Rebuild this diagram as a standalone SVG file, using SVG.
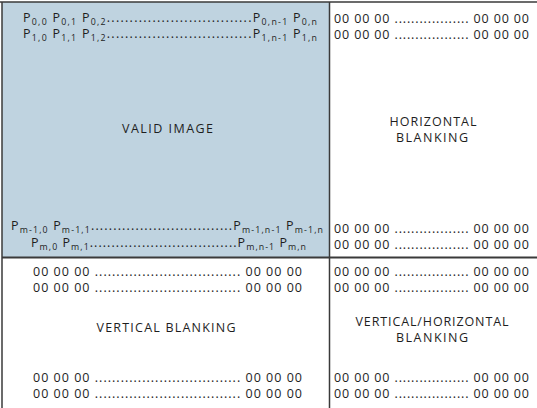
<svg xmlns="http://www.w3.org/2000/svg" width="537" height="408" viewBox="0 0 537 408">
<style>
text{font-family:"Open Sans","Noto Sans",sans-serif;font-size:12.5px;fill:#1e1e1e}
.s{font-size:8.8px}
.c{text-anchor:middle}
.ln{stroke:#3a3a3a;fill:none}
</style>
<rect x="0" y="0" width="537" height="408" fill="#fff"/>
<g id="valid-image">
<rect x="2" y="2" width="327.5" height="255" fill="#bfd3e0"/>
<text x="23" y="22" textLength="294" lengthAdjust="spacing">P<tspan class="s" dy="2.5">0,0</tspan><tspan dy="-2.5"> P</tspan><tspan class="s" dy="2.5">0,1</tspan><tspan dy="-2.5"> P</tspan><tspan class="s" dy="2.5">0,2</tspan><tspan dy="-2.5">................................P</tspan><tspan class="s" dy="2.5">0,n-1</tspan><tspan dy="-2.5"> P</tspan><tspan class="s" dy="2.5">0,n</tspan></text>
<text x="23" y="38" textLength="294" lengthAdjust="spacing">P<tspan class="s" dy="2.5">1,0</tspan><tspan dy="-2.5"> P</tspan><tspan class="s" dy="2.5">1,1</tspan><tspan dy="-2.5"> P</tspan><tspan class="s" dy="2.5">1,2</tspan><tspan dy="-2.5">................................P</tspan><tspan class="s" dy="2.5">1,n-1</tspan><tspan dy="-2.5"> P</tspan><tspan class="s" dy="2.5">1,n</tspan></text>
<text class="c" x="167.5" y="133" textLength="91" lengthAdjust="spacing">VALID IMAGE</text>
<text x="11" y="230" textLength="312" lengthAdjust="spacing">P<tspan class="s" dy="2.5">m-1,0</tspan><tspan dy="-2.5"> P</tspan><tspan class="s" dy="2.5">m-1,1</tspan><tspan dy="-2.5">................................P</tspan><tspan class="s" dy="2.5">m-1,n-1</tspan><tspan dy="-2.5"> P</tspan><tspan class="s" dy="2.5">m-1,n</tspan></text>
<text x="31" y="247" textLength="275" lengthAdjust="spacing">P<tspan class="s" dy="2.5">m,0</tspan><tspan dy="-2.5"> P</tspan><tspan class="s" dy="2.5">m,1</tspan><tspan dy="-2.5">..................................P</tspan><tspan class="s" dy="2.5">m,n-1</tspan><tspan dy="-2.5"> P</tspan><tspan class="s" dy="2.5">m,n</tspan></text>
</g>
<g id="horizontal-blanking">
<text x="334" y="23" textLength="195" lengthAdjust="spacing">00 00 00 .................. 00 00 00</text>
<text x="334" y="39" textLength="195" lengthAdjust="spacing">00 00 00 .................. 00 00 00</text>
<text class="c" x="433" y="126" textLength="87" lengthAdjust="spacing">HORIZONTAL</text>
<text class="c" x="432" y="142" textLength="72" lengthAdjust="spacing">BLANKING</text>
<text x="334" y="233" textLength="195" lengthAdjust="spacing">00 00 00 .................. 00 00 00</text>
<text x="334" y="249" textLength="195" lengthAdjust="spacing">00 00 00 .................. 00 00 00</text>
</g>
<g id="vertical-blanking">
<text x="33" y="276" textLength="269" lengthAdjust="spacing">00 00 00 .................................. 00 00 00</text>
<text x="33" y="292" textLength="269" lengthAdjust="spacing">00 00 00 .................................. 00 00 00</text>
<text class="c" x="166" y="332" textLength="139" lengthAdjust="spacing">VERTICAL BLANKING</text>
<text x="33" y="382" textLength="269" lengthAdjust="spacing">00 00 00 .................................. 00 00 00</text>
<text x="33" y="398" textLength="269" lengthAdjust="spacing">00 00 00 .................................. 00 00 00</text>
</g>
<g id="vertical-horizontal-blanking">
<text x="334" y="276" textLength="195" lengthAdjust="spacing">00 00 00 .................. 00 00 00</text>
<text x="334" y="292" textLength="195" lengthAdjust="spacing">00 00 00 .................. 00 00 00</text>
<text class="c" x="432" y="326" textLength="153" lengthAdjust="spacing">VERTICAL/HORIZONTAL</text>
<text class="c" x="432" y="342" textLength="72" lengthAdjust="spacing">BLANKING</text>
<text x="334" y="382" textLength="195" lengthAdjust="spacing">00 00 00 .................. 00 00 00</text>
<text x="334" y="398" textLength="195" lengthAdjust="spacing">00 00 00 .................. 00 00 00</text>
</g>
<g id="connectors">
<line class="ln" x1="0" y1="2" x2="537" y2="2" stroke-width="1.5"/>
<line class="ln" x1="2" y1="2" x2="2" y2="408" stroke-width="1.5"/>
<line class="ln" x1="329.5" y1="2" x2="329.5" y2="408" stroke-width="1.5"/>
<line class="ln" x1="2" y1="257.5" x2="537" y2="257.5" stroke-width="2"/>
</g>
</svg>
